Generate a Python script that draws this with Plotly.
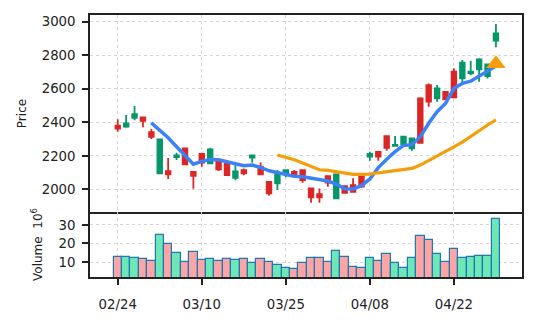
import plotly.graph_objects as go
from plotly.subplots import make_subplots

# Daily OHLC prices (one entry per trading session)
open_ = [2380, 2374, 2427, 2430, 2342, 2095, 2109, 2193, 2245, 2105,
         2212, 2155, 2165, 2159, 2069, 2115, 2189, 2135, 2045, 2036,
         2095, 2105, 2115, 2006, 1972, 2079, 1946, 2020, 2026, 2085,
         2195, 2224, 2318, 2260, 2270, 2245, 2543, 2622, 2543, 2582,
         2702, 2662, 2692, 2716, 2676, 2887]
high = [2419, 2443, 2497, 2433, 2360, 2300, 2187, 2218, 2248, 2107,
        2218, 2248, 2179, 2162, 2145, 2125, 2205, 2161, 2047, 2115,
        2117, 2115, 2119, 2008, 2006, 2082, 2093, 2025, 2066, 2095,
        2224, 2226, 2322, 2318, 2318, 2308, 2550, 2632, 2622, 2584,
        2722, 2772, 2767, 2782, 2750, 2986]
low = [2344, 2368, 2413, 2370, 2300, 2093, 2062, 2176, 2147, 2004,
       2135, 2152, 2109, 2083, 2055, 2085, 2159, 2087, 1962, 1996,
       2072, 2080, 2039, 1920, 1920, 2016, 1944, 1975, 1984, 2010,
       2171, 2171, 2230, 2258, 2254, 2230, 2272, 2493, 2523, 2531,
       2545, 2632, 2682, 2642, 2662, 2847]
close = [2362, 2394, 2449, 2408, 2314, 2298, 2090, 2203, 2149, 2080,
         2160, 2239, 2119, 2085, 2107, 2095, 2203, 2090, 1976, 2095,
         2115, 2087, 2055, 1952, 1952, 2040, 2090, 1980, 1986, 2016,
         2211, 2195, 2248, 2266, 2314, 2304, 2278, 2523, 2602, 2537,
         2549, 2756, 2702, 2775, 2746, 2931]

# Volume in millions of shares
volume = [12.9, 12.9, 12.3, 11.8, 10.7, 24.4, 19.6, 14.7, 10.2, 15.2,
          11.3, 11.8, 10.7, 11.8, 11.3, 11.8, 9.3, 11.8, 10.2, 8.6,
          6.9, 6.4, 9.3, 12.3, 12.3, 9.8, 16.1, 12.9, 7.5, 6.9,
          12.3, 10.7, 14.2, 9.3, 6.9, 12.3, 23.9, 21.7, 14.2, 9.8,
          16.9, 12.3, 12.9, 13.4, 13.4, 33.4]

# Short and long moving averages (None before each window fills)
ma_short = [None] * 4 + [
    2397, 2354, 2308, 2254, 2205, 2150, 2167, 2178, 2177, 2166,
    2153, 2141, 2145, 2131, 2111, 2101, 2091, 2079, 2075, 2066,
    2055, 2050, 2032, 2004, 2003, 2022, 2062, 2130, 2180, 2225,
    2262, 2267, 2314, 2394, 2463, 2513, 2603, 2632, 2645, 2676,
    2702, 2736]
ma_long = [None] * 19 + [
    2205, 2191, 2177, 2157, 2137, 2117, 2113, 2105, 2095, 2090,
    2090, 2091, 2099, 2105, 2111, 2115, 2125, 2145, 2171, 2197,
    2224, 2254, 2282, 2314, 2350, 2384, 2415]

# Signal marker on the latest session
signal_index = [45]
signal_price = [2750]

tick_labels = ["02/24", "03/10", "03/25", "04/08", "04/22"]
tick_step = 10

UP = "#059669"
DOWN = "#dc2626"
VOL_UP = "#6ee7b7"
VOL_DOWN = "#fca5a5"
INK = "#222"

idx = list(range(len(close)))
vol_colors = [VOL_UP if c >= o else VOL_DOWN for o, c in zip(open_, close)]
tick_pos = [i * tick_step for i in range(len(tick_labels))]

fig = make_subplots(rows=2, cols=1, shared_xaxes=True, vertical_spacing=0,
                    row_heights=[0.752, 0.248])

fig.add_trace(go.Candlestick(
    x=idx, open=open_, high=high, low=low, close=close,
    increasing=dict(line=dict(color=UP, width=1.8), fillcolor=UP),
    decreasing=dict(line=dict(color=DOWN, width=1.8), fillcolor=DOWN),
    whiskerwidth=0, hoverinfo="skip",
), row=1, col=1)

fig.add_trace(go.Scatter(x=idx, y=ma_short, mode="lines",
                         line=dict(color="#3b82f6", width=3.5)), row=1, col=1)
fig.add_trace(go.Scatter(x=idx, y=ma_long, mode="lines",
                         line=dict(color="#f59e0b", width=3.2)), row=1, col=1)
fig.add_trace(go.Scatter(x=signal_index, y=signal_price, mode="markers",
                         marker=dict(symbol="triangle-up", size=17, color="#f59e0b")),
              row=1, col=1)

fig.add_trace(go.Bar(x=idx, y=volume, width=1.0, marker_color=vol_colors,
                     marker_line=dict(color="#1f77b4", width=1.2)), row=2, col=1)

grid = dict(showgrid=True, gridcolor="#d6d6d6", griddash="dot", gridwidth=1.2,
            zeroline=False, automargin=False)

# Price panel: full frame; volume panel: bottom line only (top edge shared)
fig.update_xaxes(**grid, range=[-3.3, 48.1], tickvals=tick_pos,
                 ticktext=tick_labels, rangeslider_visible=False)
fig.update_xaxes(showline=True, mirror=True, linecolor=INK, linewidth=1.6,
                 showticklabels=False, ticks="", row=1, col=1)
fig.update_xaxes(showline=True, mirror=False, linecolor=INK, linewidth=1.6,
                 ticks="outside", ticklen=6, tickwidth=1.5, tickcolor=INK,
                 ticklabelstandoff=8, row=2, col=1)

fig.update_yaxes(**grid, showline=True, mirror=True, linecolor=INK, linewidth=1.6,
                 ticks="outside", ticklen=6, tickwidth=1.5, tickcolor=INK,
                 ticklabelstandoff=4)
fig.update_yaxes(range=[1865, 3040], tickvals=[2000, 2200, 2400, 2600, 2800, 3000],
                 title=dict(text="Price", standoff=12, font=dict(size=12)),
                 row=1, col=1)
fig.update_yaxes(range=[1.9, 37], tickvals=[10, 20, 30],
                 title=dict(text="Volume  10<sup>6</sup>", standoff=13,
                            font=dict(size=12)),
                 row=2, col=1)

fig.update_layout(
    width=537, height=322,
    margin=dict(l=90, r=15, t=15, b=45),
    plot_bgcolor="white", paper_bgcolor="white",
    showlegend=False, boxgap=0.22, bargap=0,
    font=dict(family="DejaVu Sans", size=13.3, color=INK),
)

fig.write_html("out.html")
